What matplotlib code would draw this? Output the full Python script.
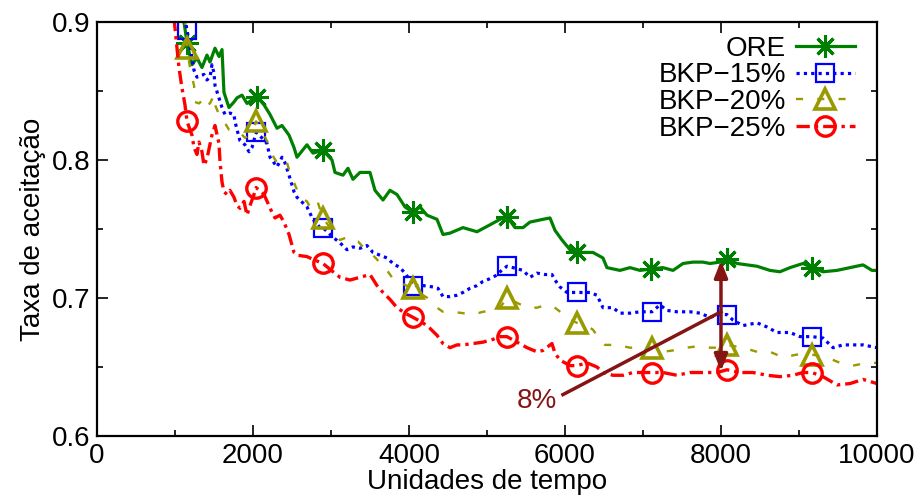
import numpy as np
import matplotlib
matplotlib.use("Agg")
import matplotlib.pyplot as plt

plt.rcParams['font.family'] = ['Liberation Sans', 'DejaVu Sans']

# marker positions (time units)
mark_t = [1154, 2040, 2897, 4051, 5256, 6154, 7115, 8077, 9167]

ore_t = [1103, 1154, 1218, 1282, 1346, 1410, 1449, 1513, 1564, 1603, 1628, 1692, 1756, 1795,
         1859, 1923, 2051, 2141, 2218, 2308, 2372, 2462, 2526, 2564, 2692, 2769, 2897, 3013,
         3051, 3154, 3218, 3282, 3372, 3500, 3564, 3667, 3756, 3846, 3949, 4051, 4141, 4231,
         4359, 4436, 4526, 4692, 4872, 5038, 5167, 5256, 5359, 5462, 5551, 5718, 5808, 5872,
         5962, 6064, 6154, 6282, 6359, 6487, 6538, 6705, 6833, 6962, 7103, 7256, 7385, 7513,
         7641, 7769, 7859, 7987, 8077, 8205, 8333, 8462, 8628, 8756, 8885, 9051, 9167, 9308,
         9487, 9654, 9821, 9936, 10000]
ore_v = [0.905, 0.885, 0.869, 0.874, 0.867, 0.876, 0.871, 0.881, 0.875, 0.880, 0.849, 0.838,
         0.842, 0.845, 0.847, 0.841, 0.846, 0.840, 0.833, 0.823, 0.825, 0.818, 0.809, 0.802,
         0.811, 0.805, 0.807, 0.800, 0.791, 0.789, 0.794, 0.786, 0.791, 0.791, 0.778, 0.771,
         0.778, 0.775, 0.766, 0.762, 0.766, 0.760, 0.757, 0.746, 0.747, 0.751, 0.748, 0.753,
         0.757, 0.759, 0.751, 0.751, 0.755, 0.757, 0.758, 0.749, 0.742, 0.735, 0.733, 0.733,
         0.733, 0.729, 0.722, 0.720, 0.722, 0.720, 0.721, 0.722, 0.720, 0.725, 0.726, 0.726,
         0.725, 0.726, 0.728, 0.725, 0.724, 0.723, 0.720, 0.719, 0.722, 0.725, 0.722, 0.719,
         0.720, 0.722, 0.724, 0.720, 0.720]

b15_t = [1128, 1154, 1218, 1244, 1282, 1372, 1410, 1449, 1474, 1500, 1513, 1564, 1603, 1641,
         1705, 1756, 1769, 1795, 1833, 1897, 1949, 1987, 2040, 2115, 2179, 2218, 2269, 2308,
         2372, 2410, 2462, 2526, 2564, 2692, 2769, 2859, 2897, 3026, 3115, 3205, 3282, 3372,
         3462, 3538, 3628, 3718, 3795, 3885, 3949, 4013, 4051, 4179, 4308, 4372, 4436, 4526,
         4615, 4692, 4782, 4872, 4949, 5038, 5141, 5167, 5256, 5333, 5462, 5551, 5641, 5744,
         5833, 5872, 5936, 6026, 6154, 6321, 6410, 6487, 6615, 6705, 6833, 6962, 7115, 7218,
         7308, 7436, 7603, 7731, 7859, 7987, 8077, 8154, 8282, 8462, 8590, 8718, 8885, 9013,
         9167, 9308, 9436, 9564, 9692, 9821, 10000]
b15_v = [0.903, 0.894, 0.874, 0.865, 0.860, 0.862, 0.858, 0.860, 0.869, 0.863, 0.854, 0.845,
         0.838, 0.833, 0.834, 0.833, 0.828, 0.822, 0.814, 0.811, 0.806, 0.809, 0.820, 0.816,
         0.812, 0.802, 0.798, 0.795, 0.802, 0.798, 0.789, 0.777, 0.773, 0.766, 0.757, 0.751,
         0.751, 0.744, 0.740, 0.735, 0.737, 0.736, 0.738, 0.733, 0.731, 0.729, 0.725, 0.722,
         0.718, 0.713, 0.709, 0.709, 0.708, 0.707, 0.701, 0.701, 0.702, 0.704, 0.707, 0.709,
         0.712, 0.714, 0.717, 0.719, 0.723, 0.722, 0.720, 0.715, 0.718, 0.717, 0.717, 0.713,
         0.708, 0.704, 0.704, 0.704, 0.702, 0.693, 0.693, 0.689, 0.689, 0.690, 0.690, 0.695,
         0.691, 0.690, 0.690, 0.689, 0.686, 0.688, 0.688, 0.684, 0.680, 0.682, 0.679, 0.675,
         0.675, 0.672, 0.672, 0.671, 0.664, 0.666, 0.666, 0.666, 0.664]

b20_t = [1128, 1154, 1192, 1218, 1244, 1256, 1308, 1346, 1372, 1410, 1449, 1500, 1513, 1564,
         1628, 1692, 1756, 1833, 1897, 1962, 2040, 2141, 2205, 2244, 2308, 2372, 2436, 2474,
         2538, 2603, 2692, 2731, 2821, 2897, 3026, 3115, 3205, 3282, 3346, 3410, 3500, 3590,
         3667, 3731, 3782, 3795, 3885, 4051, 4179, 4269, 4359, 4436, 4564, 4692, 4821, 4949,
         5077, 5167, 5256, 5513, 5641, 5769, 5846, 5962, 6000, 6154, 6282, 6359, 6410, 6513,
         6667, 6833, 6962, 7115, 7256, 7385, 7564, 7692, 7859, 7987, 8077, 8282, 8462, 8628,
         8795, 8974, 9167, 9359, 9526, 9692, 9872, 10000]
b20_v = [0.903, 0.881, 0.867, 0.860, 0.854, 0.842, 0.841, 0.843, 0.838, 0.840, 0.841, 0.847,
         0.840, 0.833, 0.828, 0.822, 0.822, 0.820, 0.816, 0.818, 0.828, 0.818, 0.811, 0.804,
         0.798, 0.801, 0.798, 0.791, 0.782, 0.773, 0.770, 0.766, 0.771, 0.758, 0.748, 0.742,
         0.744, 0.741, 0.741, 0.737, 0.733, 0.728, 0.722, 0.719, 0.715, 0.713, 0.711, 0.707,
         0.702, 0.699, 0.693, 0.690, 0.690, 0.689, 0.688, 0.690, 0.691, 0.693, 0.700, 0.693,
         0.693, 0.695, 0.694, 0.689, 0.686, 0.682, 0.680, 0.677, 0.673, 0.666, 0.666, 0.664,
         0.664, 0.664, 0.661, 0.662, 0.664, 0.665, 0.664, 0.664, 0.666, 0.664, 0.661, 0.661,
         0.657, 0.659, 0.659, 0.657, 0.653, 0.651, 0.653, 0.653]

b25_t = [987, 1026, 1051, 1090, 1128, 1154, 1218, 1244, 1282, 1308, 1346, 1372, 1410, 1474,
         1513, 1564, 1577, 1603, 1628, 1667, 1705, 1756, 1795, 1833, 1885, 1923, 1962, 2013,
         2040, 2141, 2205, 2244, 2282, 2346, 2397, 2462, 2526, 2564, 2692, 2769, 2897, 3026,
         3115, 3244, 3372, 3500, 3590, 3667, 3756, 3846, 3949, 4051, 4179, 4269, 4359, 4436,
         4526, 4615, 4692, 4821, 4949, 5077, 5167, 5256, 5385, 5513, 5641, 5718, 5833, 5872,
         5936, 6064, 6154, 6282, 6410, 6487, 6615, 6744, 6872, 7000, 7115, 7256, 7436, 7603,
         7731, 7949, 8077, 8244, 8410, 8590, 8756, 8923, 9051, 9167, 9308, 9487, 9654, 9821,
         10000]
b25_v = [0.903, 0.881, 0.867, 0.852, 0.840, 0.828, 0.818, 0.809, 0.804, 0.813, 0.806, 0.796,
         0.801, 0.818, 0.825, 0.812, 0.799, 0.784, 0.777, 0.775, 0.778, 0.773, 0.767, 0.765,
         0.770, 0.760, 0.767, 0.775, 0.780, 0.775, 0.767, 0.762, 0.758, 0.760, 0.755, 0.746,
         0.733, 0.731, 0.730, 0.728, 0.725, 0.719, 0.715, 0.713, 0.715, 0.717, 0.709, 0.704,
         0.699, 0.693, 0.689, 0.686, 0.682, 0.678, 0.673, 0.667, 0.664, 0.666, 0.666, 0.667,
         0.668, 0.670, 0.672, 0.672, 0.668, 0.664, 0.661, 0.662, 0.667, 0.660, 0.655, 0.651,
         0.651, 0.653, 0.650, 0.646, 0.644, 0.644, 0.646, 0.646, 0.646, 0.646, 0.644, 0.646,
         0.646, 0.646, 0.648, 0.646, 0.646, 0.644, 0.643, 0.644, 0.646, 0.646, 0.643, 0.637,
         0.638, 0.641, 0.638]

labels = ["ORE", "BKP\u221215%", "BKP\u221220%", "BKP\u221225%"]

# annotation values
gap_t = 8000
gap_top, gap_bot = 0.727, 0.647
note_from = (5974, 0.630)
note_to = (8000, 0.690)
note_text = "8%"


def marks(t):
    t = np.asarray(t)
    return [int(np.abs(t - m).argmin()) for m in mark_t]


fig = plt.figure(figsize=(9.21, 4.95), dpi=100)
ax = fig.add_axes([0.1053, 0.1192, 0.8469, 0.8364])

ax.plot(ore_t, ore_v, color='#008000', lw=2.3, ls='-', marker=(8, 2, 0), ms=16, mew=2.2,
        markevery=marks(ore_t), label=labels[0])
ax.plot(b15_t, b15_v, color='#0000ff', lw=2.3, ls=(0, (1, 1.3)), marker='s', ms=13, mew=1.6,
        mfc='none', markevery=marks(b15_t), label=labels[1])
ax.plot(b20_t, b20_v, color='#999900', lw=1.7, ls=(0, (3, 6)), marker='^', ms=15, mew=2.6,
        mfc='none', markevery=marks(b20_t), label=labels[2])
ax.plot(b25_t, b25_v, color='#ff0000', lw=2.4, ls=(0, (4, 1.5, 1, 1.5)), marker='o', ms=14,
        mew=2.4, mfc='none', markevery=marks(b25_t), label=labels[3])

dark = '#851515'
ax.annotate('', xy=(gap_t, gap_top), xytext=(gap_t, gap_bot),
            arrowprops=dict(arrowstyle='<|-|>,head_length=1.0,head_width=0.4', color=dark,
                            lw=2.5, shrinkA=0, shrinkB=0))
ax.plot([note_from[0], note_to[0]], [note_from[1], note_to[1]], color=dark, lw=2.5)
ax.text(5640, 0.6255, note_text, color=dark, fontsize=20, ha='center', va='center')

ax.set_xlim(0, 10000)
ax.set_ylim(0.6, 0.9)
ax.set_xticks([0, 2000, 4000, 6000, 8000, 10000])
ax.set_xticks(np.arange(1000, 10000, 2000), minor=True)
ax.set_yticks([0.6, 0.7, 0.8, 0.9])
ax.set_yticks([0.65, 0.75, 0.85], minor=True)
ax.set_yticklabels(['0.6', '0.7', '0.8', '0.9'])
ax.tick_params(which='both', direction='in', top=True, right=True, labelsize=20, width=1.2)
ax.tick_params(which='major', length=8, pad=5)
ax.tick_params(which='minor', length=4)
for s in ax.spines.values():
    s.set_linewidth(1.6)

ax.set_xlabel("Unidades de tempo", fontsize=20, labelpad=0)
ax.set_ylabel("Taxa de aceitação", fontsize=20, labelpad=4)

ax.legend(loc='upper right', bbox_to_anchor=(0.99, 1.0), frameon=False, markerfirst=False,
          fontsize=20, handlelength=2.15, handletextpad=0.35, labelspacing=0.02, numpoints=1,
          borderaxespad=0.1)

fig.savefig('out.png', dpi=100)
